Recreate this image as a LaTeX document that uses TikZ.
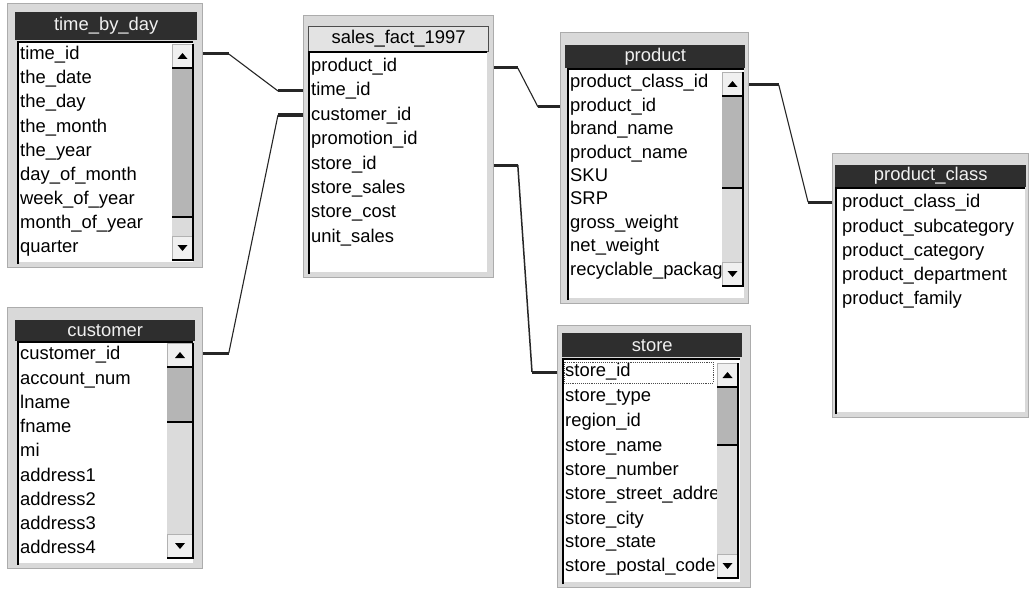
\documentclass[tikz,border=0pt]{standalone}
\usepackage{fontspec}
\setmainfont{Liberation Sans}
\usetikzlibrary{calc}
\newcommand\dbfont{\fontsize{18.4}{20}\selectfont}
\newcommand\dbscroll[5]{%
  \fill[gray!28] (#1,#3) rectangle (#2,#5);
  \fill[gray!58] (#1,#3+24) rectangle (#2,#4);
  \draw[black,line width=1.3pt] (#1,#4) -- (#2,#4);
  \draw[fill=gray!12,draw=gray!60] (#1,#3) rectangle (#2,#3+24);
  \draw[fill=gray!12,draw=gray!60] (#1,#5-24) rectangle (#2,#5);
  \draw[black,line width=1.3pt] (#1,#3+24) -- (#2,#3+24);
  \fill[black] ({(#1+#2)/2-5},#3+15) -- ({(#1+#2)/2+5},#3+15) -- ({(#1+#2)/2},#3+9) -- cycle;
  \fill[black] ({(#1+#2)/2-5},#5-15) -- ({(#1+#2)/2+5},#5-15) -- ({(#1+#2)/2},#5-9) -- cycle;
  \draw[black,line width=1.3pt] (#2,#3) -- (#2,#5) -- (#1,#5);
}
\tikzset{
  win/.style={draw=gray!65, fill=gray!30, line width=0.8pt, inner sep=0pt, anchor=north west},
  titlebar/.style={fill=black!82, text=white!88!gray, inner sep=0pt, anchor=north west, font=\dbfont},
  lighttitle/.style={fill=gray!22, draw=black!70, line width=1.2pt, text=black, inner sep=0pt, anchor=north west, font=\dbfont},
  row/.style={anchor=west, inner sep=0pt, text height=13pt, text depth=4pt, font=\dbfont, text=black},
  listedge/.style={black, line width=1.3pt},
  link/.style={black!85, line width=1.1pt},
  stub/.style={black!85, line width=3pt},
}
\begin{document}
\begin{tikzpicture}[x=1pt,y=-1pt]
\useasboundingbox[fill=white] (0,0) rectangle (1029,594);

% ---------------- time_by_day
\node[win, minimum width=195pt, minimum height=264pt] (tbd) at (7,3) {};
\node[titlebar, minimum width=182pt, minimum height=28pt] (tbdt) at (15,12) {time\_by\_day};
\fill[white] (18,42) rectangle (193,262);
\draw[listedge] (18,264) -- (18,42) -- (193,42);
\node[row] (tbd1) at (20,55) {time\_id};
\node[row] (tbd2) at (20,79) {the\_date};
\node[row] (tbd3) at (20,103) {the\_day};
\node[row] (tbd4) at (20,128) {the\_month};
\node[row] (tbd5) at (20,152) {the\_year};
\node[row] (tbd6) at (20,176) {day\_of\_month};
\node[row] (tbd7) at (20,200) {week\_of\_year};
\node[row] (tbd8) at (20,224) {month\_of\_year};
\node[row] (tbd9) at (20,248) {quarter};
\dbscroll{172}{193}{44}{217}{260}

% ---------------- customer
\node[win, minimum width=195pt, minimum height=261pt] (cu) at (7,307) {};
\node[titlebar, minimum width=180pt, minimum height=21pt] (cut) at (15,320) {customer};
\fill[white] (18,342) rectangle (193,563);
\draw[listedge] (18,565) -- (18,342) -- (193,342);
\node[row] (cu1) at (20,355) {customer\_id};
\node[row] (cu2) at (20,380) {account\_num};
\node[row] (cu3) at (20,404) {lname};
\node[row] (cu4) at (20,428) {fname};
\node[row] (cu5) at (20,452) {mi};
\node[row] (cu6) at (20,477) {address1};
\node[row] (cu7) at (20,501) {address2};
\node[row] (cu8) at (20,525) {address3};
\node[row] (cu9) at (20,549) {address4};
\dbscroll{167}{193}{343}{422}{558}

% ---------------- sales_fact_1997
\node[win, minimum width=190pt, minimum height=262pt] (sf) at (303,15) {};
\node[lighttitle, minimum width=180pt, minimum height=25pt] (sft) at (308,26) {sales\_fact\_1997};
\fill[white] (309,52) rectangle (487,272);
\draw[listedge] (309,274) -- (309,52) -- (487,52);
\node[row] (sf1) at (311,67) {product\_id};
\node[row] (sf2) at (311,91) {time\_id};
\node[row] (sf3) at (311,116) {customer\_id};
\node[row] (sf4) at (311,140) {promotion\_id};
\node[row] (sf5) at (311,165) {store\_id};
\node[row] (sf6) at (311,189) {store\_sales};
\node[row] (sf7) at (311,213) {store\_cost};
\node[row] (sf8) at (311,238) {unit\_sales};

% ---------------- product
\node[win, minimum width=188pt, minimum height=271pt] (pr) at (560,32) {};
\node[titlebar, minimum width=180pt, minimum height=23pt] (prt) at (565,45) {product};
\fill[white] (568,69) rectangle (744,298);
\draw[listedge] (568,300) -- (568,69) -- (744,69);
\node[row] (pr1) at (570,83) {product\_class\_id};
\node[row] (pr2) at (570,107) {product\_id};
\node[row] (pr3) at (570,130) {brand\_name};
\node[row] (pr4) at (570,154) {product\_name};
\node[row] (pr5) at (570,177) {SKU};
\node[row] (pr6) at (570,200) {SRP};
\node[row] (pr7) at (570,224) {gross\_weight};
\node[row] (pr8) at (570,247) {net\_weight};
\node[row] (pr9) at (570,271) {recyclable\_package};
\dbscroll{722}{743}{72}{188}{286}

% ---------------- store
\node[win, minimum width=193pt, minimum height=262pt] (st) at (557,325) {};
\node[titlebar, minimum width=180pt, minimum height=24pt] (stt) at (562,333) {store};
\fill[white] (563,359) rectangle (740,582);
\draw[listedge] (563,584) -- (563,359) -- (740,359);
\node[row] (st1) at (565,372) {store\_id};
\node[row] (st2) at (565,397) {store\_type};
\node[row] (st3) at (565,422) {region\_id};
\node[row] (st4) at (565,447) {store\_name};
\node[row] (st5) at (565,471) {store\_number};
\node[row] (st6) at (565,495) {store\_street\_address};
\node[row] (st7) at (565,520) {store\_city};
\node[row] (st8) at (565,543) {store\_state};
\node[row] (st9) at (565,567) {store\_postal\_code};
\draw[black!70, densely dotted, line width=0.9pt] (564,362) rectangle (713,383);
\dbscroll{717}{738}{363}{445}{578}

% ---------------- product_class
\node[win, minimum width=196pt, minimum height=264pt] (pc) at (832,153) {};
\node[titlebar, minimum width=191pt, minimum height=22pt] (pct) at (835,165) {product\_class};
\fill[white] (836,188) rectangle (1025,412);
\draw[listedge] (836,414) -- (836,188) -- (1025,188);
\node[row] (pc1) at (842,203) {product\_class\_id};
\node[row] (pc2) at (842,228) {product\_subcategory};
\node[row] (pc3) at (842,252) {product\_category};
\node[row] (pc4) at (842,276) {product\_department};
\node[row] (pc5) at (842,300) {product\_family};

% ---------------- connectors
\coordinate (a1) at ($(tbd.east |- tbd1)+(0,-1)$);
\coordinate (a2) at ($(a1)+(26,0)$);
\coordinate (a4) at (sf.west |- sf2);
\coordinate (a3) at ($(a4)+(-25,0)$);
\draw[stub] (a1) -- (a2);
\draw[link] (a2) -- (a3);
\draw[stub] (a3) -- (a4);

\coordinate (b1) at ($(cu.east |- cu1)+(0,-2)$);
\coordinate (b2) at ($(b1)+(26,0)$);
\coordinate (b4) at ($(sf.west |- sf3)+(0,-1)$);
\coordinate (b3) at ($(b4)+(-25,0)$);
\draw[stub] (b1) -- (b2);
\draw[link] (b2) -- (b3);
\draw[stub] (b3) -- (b4);

\coordinate (c1) at ($(sf.east |- sf1)+(0,1)$);
\coordinate (c2) at ($(c1)+(24,0)$);
\coordinate (c4) at (pr.west |- pr2);
\coordinate (c3) at ($(c4)+(-22,0)$);
\draw[stub] (c1) -- (c2);
\draw[link] (c2) -- (c3);
\draw[stub] (c3) -- (c4);

\coordinate (d1) at (sf.east |- sf5);
\coordinate (d2) at ($(d1)+(24,0)$);
\coordinate (d4) at (st.west |- st1);
\coordinate (d3) at ($(d4)+(-25,0)$);
\draw[stub] (d1) -- (d2);
\draw[link, line width=1.5pt] (d2) -- (d3);
\draw[stub] (d3) -- (d4);

\coordinate (e1) at ($(pr.east |- pr1)+(0,2)$);
\coordinate (e2) at ($(e1)+(30,0)$);
\coordinate (e4) at ($(pc.west |- pc1)+(0,-1)$);
\coordinate (e3) at ($(e4)+(-24,0)$);
\draw[stub] (e1) -- (e2);
\draw[link] (e2) -- (e3);
\draw[stub] (e3) -- (e4);
\end{tikzpicture}
\end{document}
